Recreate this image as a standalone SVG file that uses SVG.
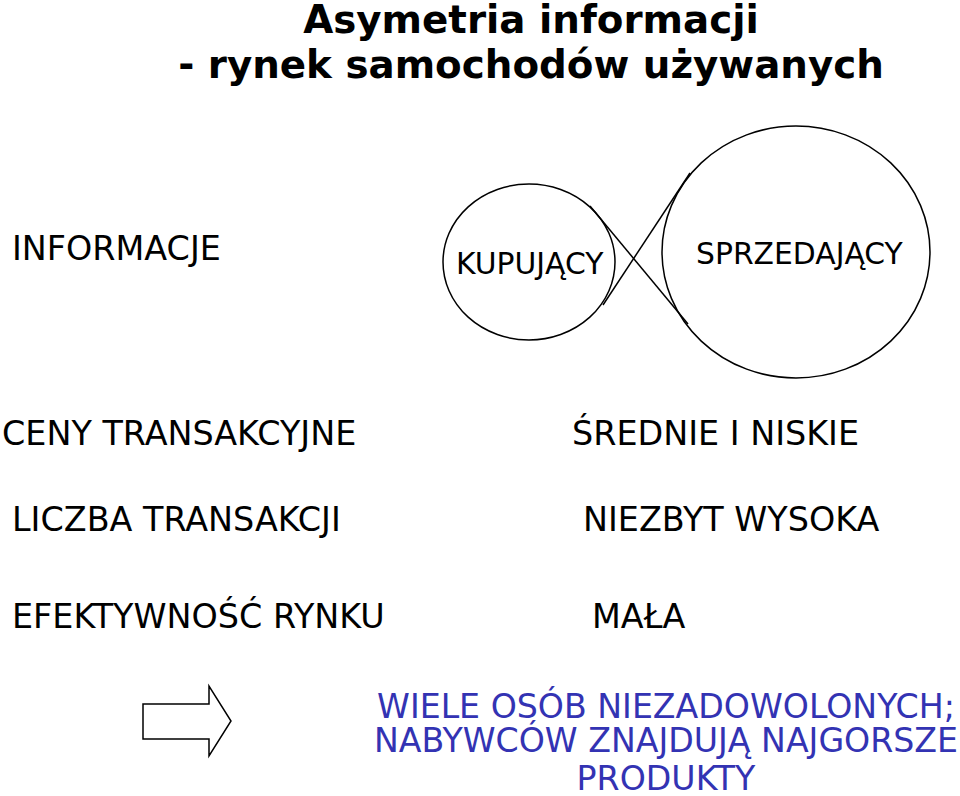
<svg xmlns="http://www.w3.org/2000/svg" width="960" height="796" viewBox="0 0 960 796">
<style>
.t{font-family:"DejaVu Sans","Liberation Sans",sans-serif;font-size:33.4px;fill:#000}
.c{font-family:"DejaVu Sans","Liberation Sans",sans-serif;font-size:29.8px;fill:#000}
.h{font-family:"DejaVu Sans","Liberation Sans",sans-serif;font-size:38.8px;font-weight:bold;fill:#000;text-anchor:middle}
.b{font-family:"DejaVu Sans","Liberation Sans",sans-serif;font-size:33.2px;fill:#3333b3;text-anchor:middle}
.s{fill:#fff;stroke:#000;stroke-width:1.5}
.l{stroke:#000;stroke-width:1.5;fill:none}
</style>
<rect width="960" height="796" fill="#fff"/>
<g id="title">
<text class="h" x="531" y="33">Asymetria informacji</text>
<text class="h" x="531" y="78">- rynek samochodów używanych</text>
</g>
<g id="informacje"><text class="t" x="12" y="260">INFORMACJE</text></g>
<g id="kupujacy">
<ellipse class="s" cx="529" cy="262" rx="86" ry="78"/>
<text class="c" x="456" y="274">KUPUJĄCY</text>
</g>
<g id="sprzedajacy">
<ellipse class="s" cx="796" cy="252" rx="134" ry="126"/>
<text class="c" x="696" y="264">SPRZEDAJĄCY</text>
</g>
<g id="connectors">
<path class="l" d="M590,206 L688,324"/>
<path class="l" d="M603,305 L690,173"/>
</g>
<g id="row1">
<text class="t" x="2" y="445">CENY TRANSAKCYJNE</text>
<text class="t" x="572" y="445">ŚREDNIE I NISKIE</text>
</g>
<g id="row2">
<text class="t" x="12" y="531">LICZBA TRANSAKCJI</text>
<text class="t" x="583" y="531">NIEZBYT WYSOKA</text>
</g>
<g id="row3">
<text class="t" x="12" y="628">EFEKTYWNOŚĆ RYNKU</text>
<text class="t" x="592" y="628">MAŁA</text>
</g>
<g id="arrow">
<polygon class="s" points="143,704 209,704 209,686 231,721 209,756 209,739 143,739"/>
</g>
<g id="conclusion">
<text class="b" x="666" y="718">WIELE OSÓB NIEZADOWOLONYCH;</text>
<text class="b" x="666" y="752">NABYWCÓW ZNAJDUJĄ NAJGORSZE</text>
<text class="b" x="666" y="790">PRODUKTY</text>
</g>
</svg>
